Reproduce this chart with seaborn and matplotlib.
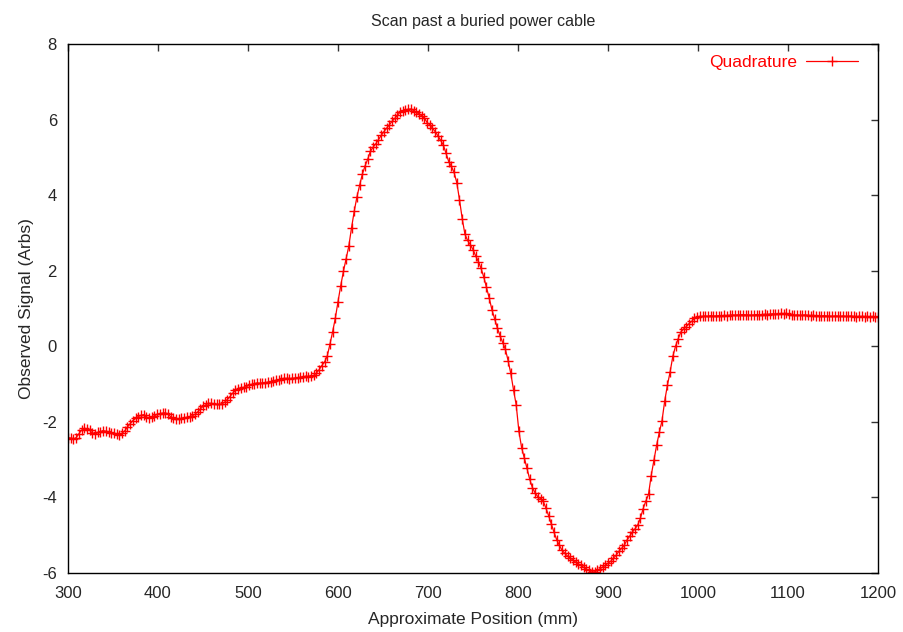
import numpy as np
import pandas as pd
import matplotlib
matplotlib.use("Agg")
import matplotlib.pyplot as plt
import seaborn as sns

# scan positions: 300 mm to 1200 mm, one sample every 3 mm
x_start, x_step = 300, 3

# quadrature signal, 10 samples (30 mm) per row
quadrature = [
    -2.42, -2.43, -2.46, -2.42, -2.32, -2.22, -2.17, -2.18, -2.22, -2.30,
    -2.31, -2.28, -2.26, -2.23, -2.25, -2.28, -2.29, -2.30, -2.32, -2.35,
    -2.30, -2.24, -2.14, -2.05, -1.97, -1.91, -1.86, -1.83, -1.81, -1.87,
    -1.90, -1.87, -1.84, -1.80, -1.78, -1.77, -1.76, -1.80, -1.86, -1.90,
    -1.92, -1.92, -1.91, -1.89, -1.88, -1.86, -1.84, -1.80, -1.74, -1.66,
    -1.59, -1.55, -1.51, -1.51, -1.53, -1.54, -1.54, -1.52, -1.48, -1.41,
    -1.33, -1.24, -1.17, -1.13, -1.10, -1.09, -1.07, -1.03, -1.01, -0.99,
    -0.97, -0.98, -0.97, -0.96, -0.95, -0.94, -0.92, -0.90, -0.89, -0.87,
    -0.85, -0.85, -0.86, -0.85, -0.84, -0.83, -0.82, -0.81, -0.79, -0.80,
    -0.79, -0.77, -0.71, -0.62, -0.51, -0.42, -0.26, 0.05, 0.38, 0.74,
    1.18, 1.60, 1.98, 2.31, 2.65, 3.13, 3.57, 3.95, 4.26, 4.55,
    4.77, 4.95, 5.16, 5.27, 5.36, 5.47, 5.58, 5.68, 5.77, 5.86,
    5.95, 6.03, 6.11, 6.20, 6.22, 6.26, 6.27, 6.28, 6.24, 6.19,
    6.15, 6.10, 6.04, 5.92, 5.86, 5.77, 5.68, 5.57, 5.45, 5.33,
    5.11, 4.89, 4.76, 4.60, 4.33, 3.88, 3.38, 2.97, 2.80, 2.69,
    2.56, 2.39, 2.24, 2.06, 1.83, 1.56, 1.28, 0.97, 0.73, 0.49,
    0.28, 0.10, -0.08, -0.38, -0.72, -1.15, -1.55, -2.25, -2.68, -2.95,
    -3.23, -3.52, -3.74, -3.88, -3.98, -4.03, -4.10, -4.28, -4.48, -4.70,
    -4.92, -5.12, -5.27, -5.40, -5.48, -5.55, -5.60, -5.66, -5.71, -5.76,
    -5.80, -5.85, -5.90, -5.93, -5.98, -5.97, -5.93, -5.89, -5.84, -5.80,
    -5.74, -5.69, -5.61, -5.53, -5.43, -5.35, -5.27, -5.13, -5.03, -4.92,
    -4.83, -4.73, -4.55, -4.30, -4.10, -3.92, -3.42, -3.02, -2.62, -2.28,
    -1.97, -1.45, -1.03, -0.68, -0.27, 0.00, 0.20, 0.38, 0.46, 0.52,
    0.60, 0.66, 0.74, 0.78, 0.79, 0.79, 0.80, 0.79, 0.81, 0.80,
    0.80, 0.81, 0.80, 0.82, 0.81, 0.82, 0.83, 0.82, 0.83, 0.83,
    0.84, 0.83, 0.83, 0.82, 0.83, 0.84, 0.83, 0.84, 0.85, 0.84,
    0.85, 0.86, 0.85, 0.86, 0.87, 0.86, 0.87, 0.85, 0.83, 0.82,
    0.83, 0.82, 0.82, 0.83, 0.82, 0.81, 0.82, 0.81, 0.81, 0.80,
    0.81, 0.80, 0.80, 0.79, 0.80, 0.80, 0.79, 0.80, 0.79, 0.79,
    0.80, 0.79, 0.78, 0.79, 0.79, 0.78, 0.79, 0.78, 0.79, 0.78,
    0.78,
]

x_ticks = [300, 400, 500, 600, 700, 800, 900, 1000, 1100, 1200]
y_ticks = [-6, -4, -2, 0, 2, 4, 6, 8]

position = x_start + x_step * np.arange(len(quadrature))
df = pd.DataFrame({"position": position, "signal": quadrature})

sns.set_style("white")
plt.rcParams["font.family"] = ["Liberation Sans", "DejaVu Sans"]
plt.rcParams["axes.unicode_minus"] = False

fig = plt.figure(figsize=(9.04, 6.32), dpi=100)
ax = fig.add_axes([68 / 904, 1 - 573 / 632, 810 / 904, 529 / 632])

sns.lineplot(data=df, x="position", y="signal", ax=ax, color="#ff0000",
             marker="+", markersize=7, markeredgewidth=1.0,
             markeredgecolor="#ff0000", linewidth=0.9,
             label="Quadrature")

ax.set_xlim(300, 1200)
ax.set_ylim(-6, 8)
ax.set_xticks(x_ticks)
ax.set_yticks(y_ticks)
ax.tick_params(direction="in", length=5, width=1, top=True, right=True,
               labelsize=12, color="#333333")
ax.tick_params(axis="x", pad=9)
ax.tick_params(axis="y", pad=8)
for s in ax.spines.values():
    s.set_color("black")
    s.set_linewidth(1.0)

# gnuplot centres the title a little right of the plot centre
ax.set_title("Scan past a buried power cable", fontsize=11.5, pad=13, x=0.513)
ax.set_xlabel("Approximate Position (mm)", fontsize=12.5, labelpad=8)
ax.set_ylabel("Observed Signal (Arbs)", fontsize=12.5, labelpad=6)

ax.legend(loc="upper right", frameon=False, markerfirst=False,
          labelcolor="#ff0000", fontsize=12.5, handlelength=3.0,
          handletextpad=0.5, borderaxespad=0.3,
          bbox_to_anchor=(0.99, 1.003))

fig.savefig("out.png", dpi=100)
